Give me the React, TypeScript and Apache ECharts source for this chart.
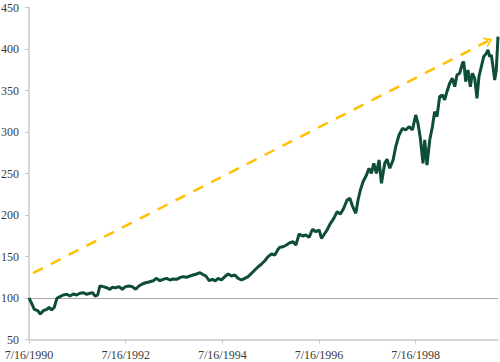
import React, { useEffect, useRef } from "react";
import * as echarts from "echarts";

const dates: string[] = [
  "1990-07-16","1990-08-05","1990-08-25","1990-09-20","1990-10-09","1990-11-01","1990-11-27","1990-12-14",
  "1991-01-03","1991-01-23","1991-02-12","1991-03-07","1991-04-01","1991-04-27","1991-05-22","1991-06-16",
  "1991-07-11","1991-08-05","1991-08-30","1991-09-25","1991-10-20","1991-11-09","1991-11-26","1991-12-17",
  "1992-01-03","1992-01-28","1992-02-23","1992-03-19","1992-04-05","1992-05-01","1992-05-26","1992-06-20",
  "1992-07-15","1992-08-09","1992-09-03","1992-09-29","1992-10-24","1992-11-18","1992-12-13",
  "1993-01-07","1993-02-09","1993-03-07","1993-03-31","1993-04-25","1993-05-21","1993-06-15","1993-07-10",
  "1993-08-05","1993-08-29","1993-09-23","1993-10-19","1993-11-13","1993-12-08",
  "1994-01-03","1994-01-28","1994-02-17","1994-03-14","1994-04-08","1994-05-03","1994-05-23","1994-06-15",
  "1994-07-10","1994-08-04","1994-08-29","1994-09-24","1994-10-19","1994-11-13","1994-12-09",
  "1995-01-02","1995-01-27","1995-02-22","1995-03-19","1995-04-13","1995-05-09","1995-06-03","1995-06-27",
  "1995-07-23","1995-08-17","1995-09-11","1995-09-24","1995-10-19","1995-11-13","1995-12-08",
  "1996-01-02","1996-01-23","1996-02-17","1996-03-13","1996-04-07","1996-05-02","1996-05-28","1996-06-22",
  "1996-07-17","1996-08-04","1996-08-21","1996-09-15","1996-10-11","1996-11-05","1996-11-30","1996-12-25",
  "1997-01-19","1997-02-13","1997-03-06","1997-03-26","1997-04-20","1997-05-07","1997-05-25","1997-06-14",
  "1997-07-10","1997-07-29","1997-08-16","1997-09-03","1997-09-23","1997-10-13","1997-10-31","1997-11-25","1997-12-12",
  "1998-01-02","1998-01-27","1998-02-16","1998-03-13","1998-04-08","1998-05-02","1998-05-27","1998-06-22",
  "1998-07-17","1998-08-03","1998-08-21","1998-09-10","1998-09-23","1998-10-10","1998-10-31","1998-11-20",
  "1998-12-07","1998-12-25",
  "1999-01-14","1999-02-04","1999-02-21","1999-03-10","1999-03-31","1999-04-20","1999-05-08","1999-05-25",
  "1999-06-14","1999-07-05","1999-07-15","1999-07-30","1999-08-16","1999-09-03","1999-09-18","1999-10-06",
  "1999-10-23","1999-11-07","1999-11-25","1999-12-13",
  "2000-01-02","2000-01-14","2000-01-27","2000-02-09","2000-02-21","2000-03-05","2000-03-17","2000-03-30",
];

const indexValues: number[] = [
  100, 93.6, 86.4, 84.7, 80.7, 84.7, 86.4, 88.8,
  85.5, 88.8, 99.6, 101.6, 103.6, 104.5, 102.4, 104.8,
  103.6, 105.7, 106.4, 104.5, 105.7, 106.4, 102.4, 103.6,
  114.5, 113.7, 112.4, 110.5, 112.9, 112.4, 113.7, 110.5,
  113.7, 114.5, 113.7, 110.5, 114.5, 116.9, 118.4,
  119.3, 120.8, 123.7, 120.8, 122.5, 123.7, 121.7, 122.9,
  122.5, 124.5, 125.7, 124.9, 126.5, 127.7,
  128.9, 130.5, 128.5, 126.5, 120.8, 122.5, 120.5, 123.7,
  121.7, 125.7, 128.9, 126.5, 127.7, 123.7, 121.7,
  123.7, 125.7, 129.8, 133.7, 137.7, 141, 144.9, 149.8,
  153, 151.8, 158.7, 161.1, 161.8, 163.9, 166.6,
  167.8, 163.9, 177.1, 174.7, 175.9, 173.1, 182.8, 179.9,
  181.9, 171.9, 175.9, 181.9, 190, 196, 204, 201.2,
  208.1, 218.1, 220.1, 210.8, 202, 218.1, 230.1, 240.1,
  248.2, 256.3, 250.2, 262.3, 250.2, 266.3, 238.2, 262.3, 267.1,
  256.3, 266.3, 282.3, 296.4, 304.4, 302.4, 306.4, 302.4,
  320.5, 310.5, 292.4, 262.3, 290.4, 260.2, 290.4, 306.4,
  324.5, 318.5,
  342.6, 344.6, 338.6, 348.6, 358.7, 364.7, 354.6, 368.7,
  370.7, 382.8, 384.7, 360.6, 374.7, 354.6, 370.7, 364.7,
  340.6, 366.7, 378.8, 390.8,
  394.8, 398.8, 390.8, 392.8, 378.8, 362.7, 374.7, 414.9,
];

const tickDates: string[] = ["1990-07-16", "1992-07-16", "1994-07-16", "1996-07-16", "1998-07-16"];
const yTicks: number[] = [50, 100, 150, 200, 250, 300, 350, 400, 450];
const trendStart: [string, number] = ["1990-08-15", 130];
const trendEnd: [string, number] = ["2000-01-20", 410];
const baseLine = 100;

function ts(s: string): number {
  const [y, m, d] = s.split("-").map(Number);
  return Date.UTC(y, m - 1, d);
}

export default function App() {
  const ref = useRef<HTMLDivElement>(null);
  useEffect(() => {
    if (!ref.current) return;
    const chart = echarts.init(ref.current, undefined, { renderer: "svg" });
    const font = "'Liberation Serif', 'DejaVu Serif', serif";
    const seriesData = dates.map((d, i) => [ts(d), indexValues[i]]);
    const tickVals = tickDates.map(ts);
    chart.setOption({
      animation: false,
      backgroundColor: "#ffffff",
      grid: { left: 29, right: 2, top: 7.5, bottom: 22.5, containLabel: false, outerBoundsMode: "none" },
      xAxis: {
        type: "value",
        min: ts(dates[0]),
        max: ts(dates[dates.length - 1]),
        axisLine: { show: true, lineStyle: { color: "#c8c8c8", width: 1.5 } },
        axisTick: {
          show: true,
          length: 4,
          inside: false,
          lineStyle: { color: "#c8c8c8", width: 1 },
          customValues: tickVals,
        },
        axisLabel: {
          customValues: tickVals,
          margin: 9,
          color: "#3a3a3a",
          fontFamily: font,
          fontSize: 12,
          hideOverlap: false,
          formatter: (v: number) => {
            const d = new Date(v);
            return `${d.getUTCMonth() + 1}/${d.getUTCDate()}/${d.getUTCFullYear()}`;
          },
        },
        splitLine: { show: false },
      },
      yAxis: {
        type: "value",
        min: yTicks[0],
        max: yTicks[yTicks.length - 1],
        interval: 50,
        axisLine: { show: true, lineStyle: { color: "#c8c8c8", width: 1.5 } },
        axisTick: { show: true, length: 4, lineStyle: { color: "#c8c8c8", width: 1 } },
        axisLabel: { margin: 10, color: "#3a3a3a", fontFamily: font, fontSize: 12 },
        splitLine: { show: false },
      },
      series: [
        {
          type: "line",
          data: seriesData,
          showSymbol: false,
          symbol: "none",
          lineStyle: { color: "#0e4d39", width: 3 },
          z: 3,
          markLine: {
            silent: true,
            symbol: ["none", "none"],
            label: { show: false },
            lineStyle: { color: "#a8a8a8", width: 1, type: "solid" },
            data: [{ yAxis: baseLine }],
            z: 1,
          },
        },
        {
          type: "line",
          data: [],
          markLine: {
            silent: true,
            symbol: ["none", "path://M0,10 L5,0 L10,10 L8.2,10 L5,3.6 L1.8,10 Z"],
            symbolSize: [11, 8],
            label: { show: false },
            lineStyle: { color: "#FFC000", width: 2.5, type: [11, 9] },
            itemStyle: { color: "#FFC000" },
            data: [[
              { coord: [ts(trendStart[0]), trendStart[1]] },
              { coord: [ts(trendEnd[0]), trendEnd[1]] },
            ]],
          },
        },
      ],
    });
    return () => chart.dispose();
  }, []);
  return (
    <div
      ref={ref}
      style={{ position: "absolute", left: 0, top: 0, width: 500, height: 362, background: "#fff" }}
    />
  );
}
